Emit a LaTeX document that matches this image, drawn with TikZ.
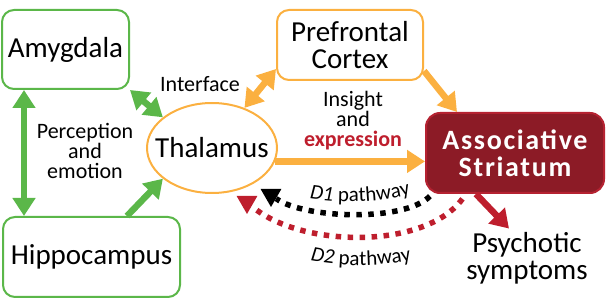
\documentclass[tikz,border=0pt]{standalone}
\usepackage{fontspec}
\setmainfont{Carlito}
\usepackage{tikz}
\usetikzlibrary{arrows.meta,calc,shapes.geometric,decorations.text}
\definecolor{leaf}{HTML}{5BB749}
\definecolor{amber}{HTML}{FBB040}
\definecolor{brick}{HTML}{8C1B26}
\definecolor{brickedge}{HTML}{B52231}
\definecolor{crimson}{HTML}{BE1E2D}
\tikzset{
  >={Triangle[length=18pt,width=22pt]},
  every node/.style={font=\fontsize{22}{20}\selectfont},
  big/.style={font=\fontsize{29}{27}\selectfont,align=center},
  gbox/.style={big,rounded corners=12pt,draw=leaf,line width=2pt,fill=white},
  obox/.style={big,rounded corners=12pt,draw=amber,line width=2pt,fill=white},
  sbox/.style={rounded corners=14pt,draw=brickedge,line width=2pt,fill=brick,text=white,align=center,
    font=\fontsize{28}{27}\selectfont\bfseries\addfontfeatures{LetterSpace=6}},
  oval/.style={ellipse,draw=amber,line width=2pt,inner sep=0pt,minimum width=130pt,minimum height=90pt},
  tri/.style={regular polygon,regular polygon sides=3,regular polygon rotate=180,inner sep=0pt,minimum size=24pt},
  garr/.style={leaf,line width=6.5pt},
  oarr/.style={amber,line width=6.5pt},
  rarr/.style={crimson,line width=6.5pt},
  dots/.style={line width=5.5pt,dash pattern=on 5.5pt off 6.5pt},
}

\begin{document}
\begin{tikzpicture}[x=1pt,y=-1pt]
  \useasboundingbox (0,0) rectangle (606,307);
  \node[gbox,minimum width=127pt,minimum height=79pt] (amy) at (65.5,49.5) {Amygdala};
  \node[gbox,minimum width=177pt,minimum height=80pt] (hip) at (91.5,257) {Hippocampus};
  \node[obox,minimum width=146pt,minimum height=70pt] (pfc) at (350,45) {Prefrontal\\Cortex};
  \node[oval,label={[big]center:Thalamus}] (thal) at (212,148) {};
  \node[sbox,minimum width=178pt,minimum height=80pt] (str) at (515,153) {Associative\\Striatum};
  \node[big] (psy) at (527,258) {Psychotic\\symptoms};
  \node (ifc) at (200,84) {Interface};
  \node[align=center] (perc) at (85,151) {Perception\\and\\emotion};
  \node[align=center] (ins) at (353,121) {Insight\\and\\\textcolor{crimson}{\bfseries expression}};
  \node[tri,fill=black] (d1) at (271,195) {};
  \node[tri,fill=crimson] (d2) at (247,202) {};

  \draw[garr,<->] ([xshift=23pt]amy.south west) -- ([xshift=22pt]hip.north west);
  \draw[garr,<->] (amy.south east) -- (thal.148);
  \draw[garr,->] ([xshift=125pt]hip.north west) -- (thal.212);
  \draw[oarr,<->] (thal.51) -- ([yshift=12pt]pfc.south west);
  \draw[oarr,->] ([yshift=10pt]pfc.south east) -- ([xshift=32pt]str.north west);
  \draw[oarr,->] (thal.-12) -- (thal.-12 -| str.west);
  \draw[rarr,->] ([xshift=51pt]str.south west) -- ([xshift=-18pt]psy.north);

  \draw[dots,black,shorten <=3pt] ([xshift=7pt]str.south west) .. controls (405,222) and (305,219) .. (d1);
  \draw[dots,crimson,shorten <=6pt] ([xshift=41pt]str.south west) .. controls (425,250) and (300,248) .. (d2);
  \path[decorate,decoration={text along path,text align=center,
    text={|\fontsize{21}{21}\selectfont\itshape|D1 |\fontsize{21}{21}\selectfont\upshape|pathway}}]
    (298,196) .. controls (330,204) and (390,204) .. (422,190);
  \path[decorate,decoration={text along path,text align=center,
    text={|\fontsize{21}{21}\selectfont\itshape|D2 |\fontsize{21}{21}\selectfont\upshape|pathway}}]
    (300,258) .. controls (335,268) and (390,268) .. (422,257);
\end{tikzpicture}
\end{document}
